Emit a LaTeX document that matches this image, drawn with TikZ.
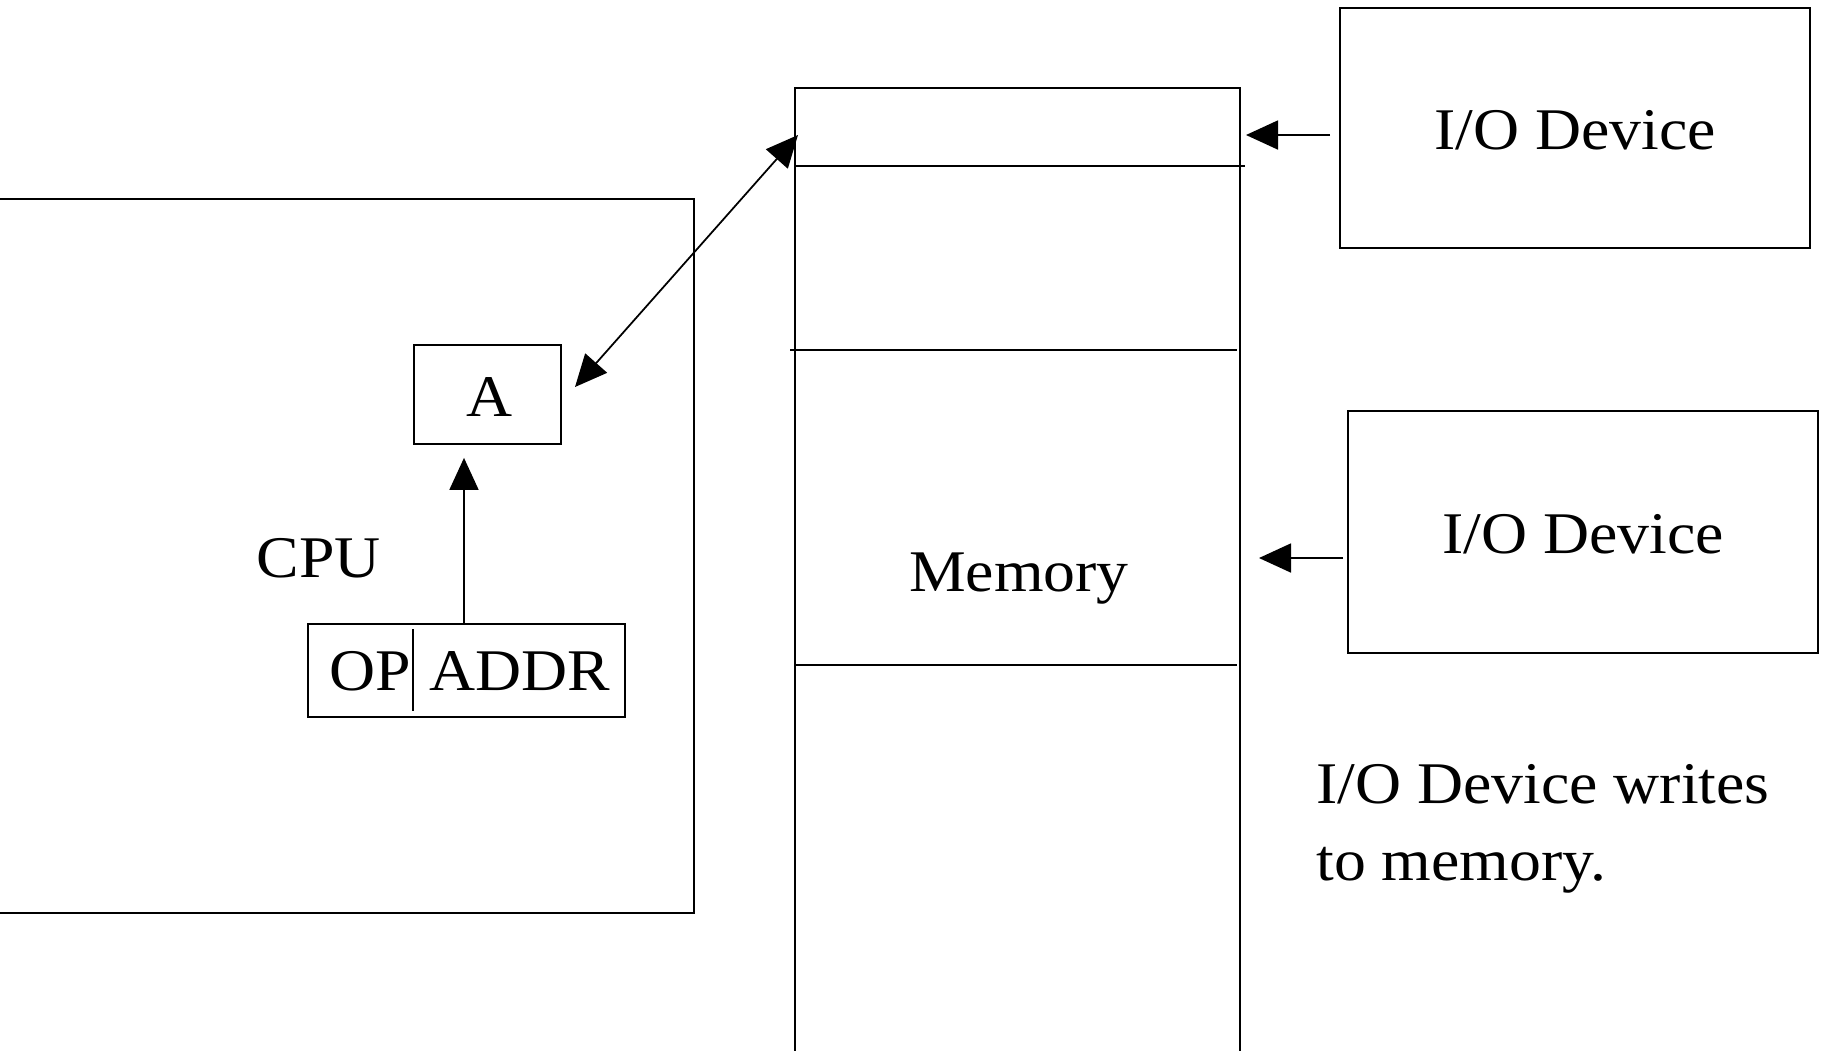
\documentclass[tikz,border=0pt]{standalone}
\usepackage{fontspec}
\setmainfont{Liberation Serif}[FakeStretch=1.08]
\usepackage{tikz}
\usetikzlibrary{arrows.meta}

\tikzset{
  box/.style={draw, line width=1pt, inner sep=0pt},
  big/.style={font=\fontsize{33.6}{43.7}\selectfont},
  tip/.style={line width=1pt, -{Triangle[length=0.64cm,width=0.58cm]}},
  bitip/.style={line width=1pt, {Triangle[length=0.64cm,width=0.58cm]}-{Triangle[length=0.64cm,width=0.58cm]}}
}

\begin{document}
\begin{tikzpicture}
  \useasboundingbox (0,0) rectangle (36.48,-21);

  % cpu side
  \node[box, minimum width=14.38cm, minimum height=14.28cm] (cpu) at (6.69,-11.12) {};
  \node[big] (cpulbl) at (6.38,-11.16) {CPU};
  \node[box, minimum width=2.94cm, minimum height=1.98cm] (areg) at (9.75,-7.89) {};
  \node[big] (alb) at (9.8,-7.94) {A};
  \node[box, minimum width=6.34cm, minimum height=1.86cm] (instr) at (9.33,-13.41) {};
  \node[big] (op) at (7.4,-13.43) {OP};
  \node[big] (addr) at (10.4,-13.43) {ADDR};
  \draw[line width=0.8pt] (8.26,-12.58) -- (8.26,-14.22);

  % memory
  \node[box, minimum width=8.9cm, minimum height=19.74cm] (mem) at (20.35,-11.63) {};
  \node[big] (memlbl) at (20.38,-11.58) {Memory};
  \draw[line width=1pt] (15.9,-3.32) -- (24.9,-3.32);
  \draw[line width=1pt] (15.8,-7.0) -- (24.74,-7.0);
  \draw[line width=1pt] (15.9,-13.3) -- (24.74,-13.3);

  % devices
  \node[box, minimum width=9.4cm, minimum height=4.8cm] (io1) at (31.5,-2.56) {};
  \node[big] at ([yshift=-0.04cm]io1) {I/O Device};
  \node[box, minimum width=9.4cm, minimum height=4.84cm] (io2) at (31.66,-10.64) {};
  \node[big] at ([yshift=-0.04cm]io2) {I/O Device};

  \node[big, align=left, anchor=west, inner sep=0pt] (note) at (26.32,-16.57)
    {I/O Device writes\\to memory.};

  % connectors
  \coordinate (in1) at (24.92,-2.7);
  \coordinate (in2) at (25.18,-11.16);
  \coordinate (aport) at (11.5,-7.74);
  \coordinate (mport) at (15.96,-2.7);

  \draw[tip] (instr.north -| 9.28,0) -- ([yshift=-0.26cm]areg.south -| 9.28,0);
  \draw[bitip] (aport) -- (mport);
  \draw[tip] ([xshift=-0.18cm]io1.west |- in1) -- (in1);
  \draw[tip] ([xshift=-0.08cm]io2.west |- in2) -- (in2);
\end{tikzpicture}
\end{document}
